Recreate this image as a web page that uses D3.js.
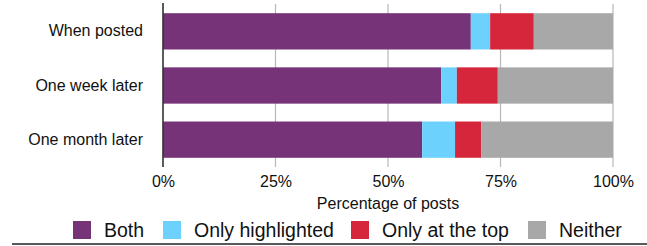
<!DOCTYPE html>
<html><head><meta charset="utf-8">
<script src="https://cdn.jsdelivr.net/npm/d3@7"></script>
<style>body{margin:0;background:#fff}svg{display:block}text{font-family:"Liberation Sans",Arial,sans-serif;fill:#111}</style>
</head><body>
<svg id="c" width="647" height="246"></svg>
<script>
const categories = ["When posted", "One week later", "One month later"];
const seriesNames = ["Both", "Only highlighted", "Only at the top", "Neither"];
const both = [68.4, 61.8, 57.6];
const onlyHighlighted = [4.3, 3.5, 7.3];
const onlyTop = [9.7, 9.1, 5.8];
const neither = [17.6, 25.6, 29.3];
const tickValues = [0, 25, 50, 75, 100];
const colors = ["#763377", "#6dd1fe", "#d6263c", "#a8a8a8"];

const rows = categories.map((c, i) => ({cat: c, "Both": both[i], "Only highlighted": onlyHighlighted[i], "Only at the top": onlyTop[i], "Neither": neither[i]}));
const stack = d3.stack().keys(seriesNames)(rows);

const svg = d3.select("#c");
const x = d3.scaleLinear().domain([0, 100]).range([163, 613]);
const y = d3.scaleBand().domain(categories).range([4, 167]).paddingInner(0.33).paddingOuter(0.17);

// grid
svg.append("g").selectAll("line").data(tickValues.slice(1)).join("line")
  .attr("x1", d => x(d)).attr("x2", d => x(d)).attr("y1", 4).attr("y2", 167)
  .attr("stroke", "#b8b8b8").attr("stroke-width", 1.2);

svg.append("g").selectAll("g").data(stack).join("g")
  .attr("fill", (d, i) => colors[i])
  .selectAll("rect").data(d => d).join("rect")
  .attr("x", d => x(d[0])).attr("width", d => x(d[1]) - x(d[0]))
  .attr("y", d => y(d.data.cat)).attr("height", y.bandwidth());

// zero axis line
svg.append("line").attr("x1", x(0)).attr("x2", x(0)).attr("y1", 3).attr("y2", 167)
  .attr("stroke", "#333").attr("stroke-width", 1.6);

const ff = '"Liberation Sans",Arial,sans-serif';
// x axis labels
const xa = svg.append("g").attr("transform", "translate(0,167)")
  .call(d3.axisBottom(x).tickValues(tickValues).tickFormat(d => d + "%").tickSize(0).tickPadding(9));
xa.select(".domain").remove();
xa.selectAll("text").style("font-size", "16px").attr("font-family", null).style("font-family", ff).attr("fill", "#111");

// y labels
const ya = svg.append("g").attr("transform", "translate(163,0)")
  .call(d3.axisLeft(y).tickSize(0).tickPadding(20));
ya.select(".domain").remove();
ya.selectAll("text").style("font-size", "16px").attr("font-family", null).style("font-family", ff).attr("fill", "#111");

svg.append("text").attr("x", x(50)).attr("y", 209).attr("text-anchor", "middle")
  .style("font-size", "16px").text("Percentage of posts");

// legend
const legX = [73, 163, 351, 528];
const lg = svg.append("g").selectAll("g").data(seriesNames).join("g")
  .attr("transform", (d, i) => `translate(${legX[i]},221)`);
lg.append("rect").attr("width", 18).attr("height", 18).attr("fill", (d, i) => colors[i]);
lg.append("text").attr("x", 31).attr("y", 16).style("font-size", "19.5px").text(d => d);

svg.append("line").attr("x1", 12).attr("x2", 647).attr("y1", 244).attr("y2", 244)
  .attr("stroke", "#222").attr("stroke-width", 1.5);
</script>
</body></html>
